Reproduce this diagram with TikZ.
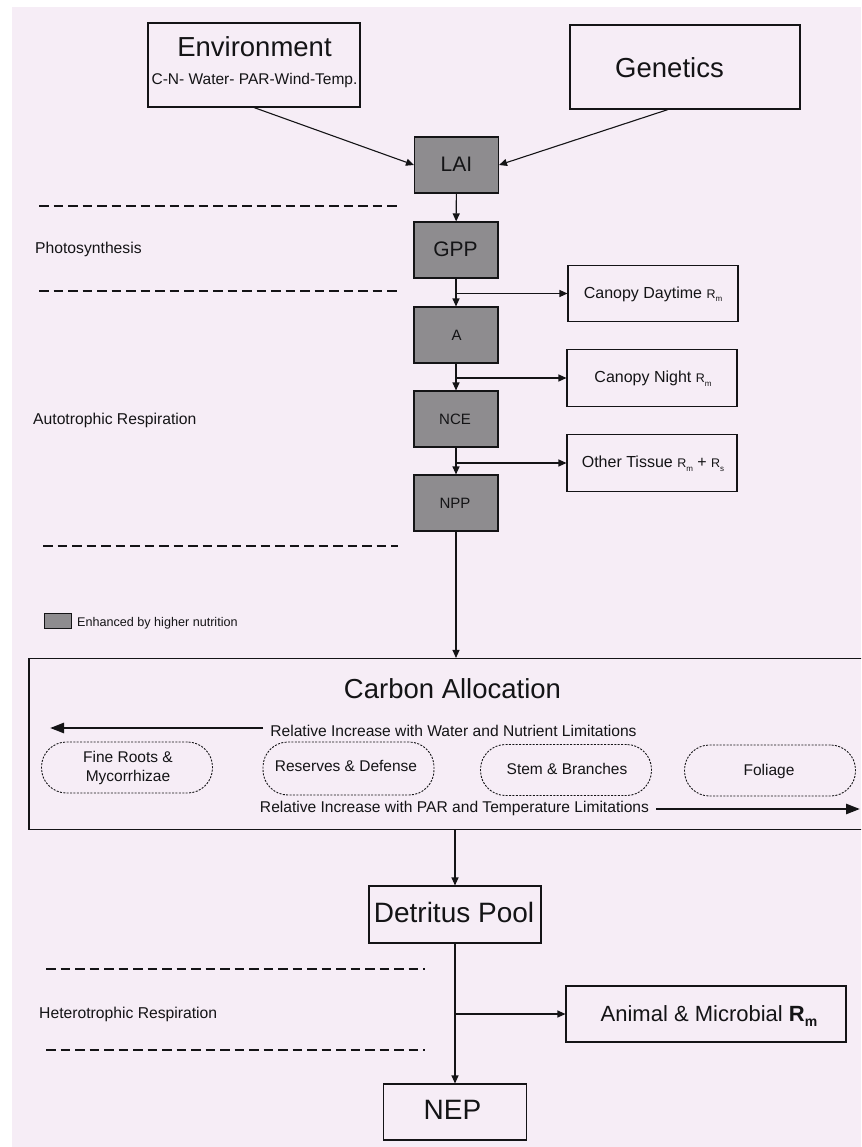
\documentclass[tikz,border=0pt]{standalone}
\usepackage{fontspec}
\setmainfont{Liberation Sans}
\usetikzlibrary{arrows.meta}
\definecolor{bgpink}{RGB}{246,237,246}
\definecolor{boxgray}{RGB}{142,140,143}
\definecolor{ink}{RGB}{20,20,22}
\newcommand{\fs}[1]{\fontsize{#1}{#1}\selectfont}
\newcommand{\Rsm}[1]{{\fs{12.5}R}\raisebox{-3.5pt}{\fs{8}#1}}
\begin{document}
\begin{tikzpicture}[x=1pt,y=-1pt,
  every node/.style={text=ink},
  box/.style={draw=ink, line width=1.1pt, inner sep=0pt},
  graybox/.style={box, fill=boxgray, minimum width=84, minimum height=56},
  rbox/.style={box, minimum width=170, minimum height=56.5},
  pill/.style={draw=ink, dash pattern=on 2pt off 1.4pt, line width=0.9pt, rounded corners=25pt, minimum width=171, minimum height=51, inner sep=0pt},
  txt/.style={inner sep=0pt, anchor=base},
  lbl/.style={inner sep=0pt, anchor=base west, font=\fs{15.7}},
  arr/.style={draw=ink, line width=1.1pt, -{Triangle[length=8pt,width=7pt]}},
  ln/.style={draw=ink, line width=1.1pt},
  dline/.style={draw=ink, line width=1.6pt, dash pattern=on 9.5pt off 5pt},
  bigarr/.style={draw=ink, line width=2.6pt, -{Triangle[length=14pt,width=10pt]}}
]
\useasboundingbox (0,0) rectangle (861,1147);
\clip (0,0) rectangle (861,1147);
\fill[white] (0,0) rectangle (861,1147);
\fill[bgpink] (12,7) rectangle (861,1147);

% top boxes
\node[box, minimum width=212, minimum height=84] (env) at (254,65) {};
\node[txt] (envt) at (254.5,56.3) {\fs{27.5}Environment};
\node[txt] (envs) at (254.5,84.5) {\fs{15.5}C-N- Water- PAR-Wind-Temp.};
\node[box, minimum width=230, minimum height=84] (gen) at (685,67) {};
\node[txt] (gent) at (669.5,78) {\fs{27.5}Genetics};

% gray chain
\node[graybox] (lai) at (456.5,165) {};
\node[txt] (lait) at (456.5,171.6) {\fs{21}LAI};
\node[graybox] (gpp) at (456,250) {};
\node[txt] (gppt) at (455.5,257) {\fs{21}GPP};
\node[graybox] (a) at (456,335) {};
\node[txt] (at) at (456.5,340) {\fs{15}A};
\node[graybox] (nce) at (456,419) {};
\node[txt] (ncet) at (455,424.3) {\fs{15}NCE};
\node[graybox] (npp) at (456,503) {};
\node[txt] (nppt) at (455,508) {\fs{15}NPP};

% right boxes
\node[rbox] (cd) at (653,293.5) {};
\node[txt] (cdt) at (653,298.3) {\fs{16}Canopy Daytime \Rsm{m}};
\node[rbox] (cn) at (652,378) {};
\node[txt] (cnt) at (653,382.7) {\fs{16}Canopy Night \Rsm{m}};
\node[rbox] (ot) at (652,463) {};
\node[txt] (ott) at (653,467.7) {\fs{16}Other Tissue \Rsm{m} + \Rsm{s}};

% connectors top
\draw[arr] (env.south) -- (lai.west);
\draw[arr] ([xshift=-17pt]gen.south) -- (lai.east);
\draw[arr] (lai) -- (gpp);
\draw[arr] (gpp) -- (a);
\draw[arr] (gpp.south |- cd.west) -- (cd.west);
\draw[arr] (a) -- (nce);
\draw[arr] (a.south |- cn.west) -- (cn.west);
\draw[arr] (nce) -- (npp);
\draw[arr] (nce.south |- ot.west) -- (ot.west);

% dashed separators and labels
\draw[dline] (39,206) -- (400,206);
\draw[dline] (39,291) -- (400,291);
\draw[dline] (43,546) -- (398,546);
\node[lbl] (photo) at (35,254) {Photosynthesis};
\node[lbl] (auto) at (33,424) {Autotrophic Respiration};

% legend
\node[draw=ink, fill=boxgray, line width=0.8pt, minimum width=27, minimum height=15, inner sep=0pt] (leg) at (57.5,620.5) {};
\node[inner sep=0pt, anchor=base west] (legt) at (77,626) {\fs{12.6}Enhanced by higher nutrition};

% carbon allocation box
\node[box, minimum width=860, minimum height=171] (alloc) at (459,744) {};
\draw[arr] (npp) -- (npp |- alloc.north);
\node[txt] (allt) at (452.5,698.3) {\fs{27.5}Carbon Allocation};
\node[txt] (topt) at (453.5,736) {\fs{15.6}Relative Increase with Water and Nutrient Limitations};
\node[txt] (bott) at (454.5,812) {\fs{15.6}Relative Increase with PAR and Temperature Limitations};
\coordinate (la) at (263,728);
\coordinate (lb) at (50,728);
\coordinate (ra) at (656,809);
\coordinate (rb) at (860,809);
\draw[bigarr] (la) -- (lb);
\draw[bigarr] (ra) -- (rb);

\node[pill] (fine) at (127,767.5) {};
\node[txt, align=center] (finet) at (128,762.7) {\fs{15.5}Fine Roots \&};
\node[txt] (finet2) at (128,781.7) {\fs{15.5}Mycorrhizae};
\node[pill, minimum height=53] (res) at (348.5,768.5) {};
\node[txt] (rest) at (346,771.7) {\fs{15.5}Reserves \& Defense};
\node[pill] (stem) at (566,770) {};
\node[txt] (stemt) at (567,774) {\fs{15.5}Stem \& Branches};
\node[pill] (fol) at (770,770.5) {};
\node[txt] (folt) at (769,775) {\fs{15.5}Foliage};

% bottom
\node[box, minimum width=172, minimum height=57] (det) at (455,914.5) {};
\node[txt] (dett) at (454,922.3) {\fs{28}Detritus Pool};
\draw[arr] (det |- alloc.south) -- (det);
\node[box, minimum width=143, minimum height=56] (nep) at (455,1112) {};
\node[txt] (nept) at (452.5,1119) {\fs{28}NEP};
\node[box, minimum width=280, minimum height=56] (an) at (706,1014) {};
\node[txt] (ant) at (709,1021) {\fs{22}Animal \& Microbial \textbf{R}\raisebox{-5pt}{\fs{14}\textbf{m}}};
\draw[arr] (det) -- (nep);
\draw[arr] (det.south |- an.west) -- (an.west);

\draw[dline] (46,969) -- (425,969);
\draw[dline] (46,1050) -- (425,1050);
\node[lbl] (hetero) at (39,1018) {Heterotrophic Respiration};
\end{tikzpicture}
\end{document}
